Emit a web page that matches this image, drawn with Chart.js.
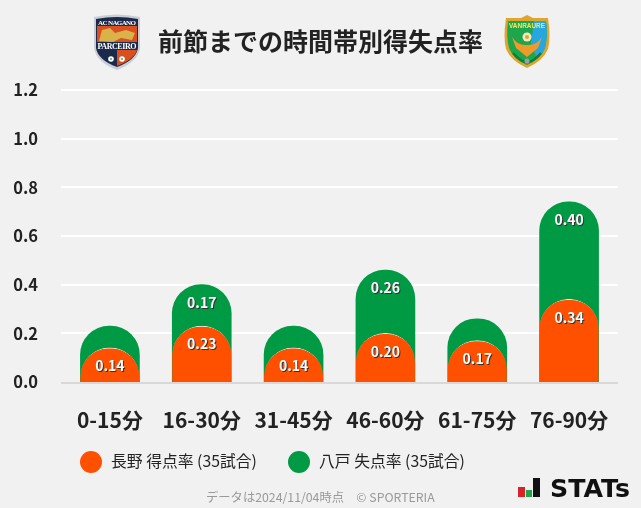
<!DOCTYPE html>
<html lang="ja">
<head>
<meta charset="utf-8">
<script src="https://cdn.jsdelivr.net/npm/chart.js@4"></script>
<style>
  html, body { margin: 0; padding: 0; background: #f1f1f1; }
  #wrap { position: relative; width: 641px; height: 508px; overflow: hidden; font-family: "Noto Sans CJK JP", sans-serif; }
  #chart { position: absolute; left: 0; top: 0; }
  .abs { position: absolute; white-space: nowrap; }
  #title { left: 158px; top: 20px; font-size: 25px; line-height: 40px; font-weight: 700; color: #222; }
  #foot { left: 206px; top: 488px; font-size: 12.3px; line-height: 18px; color: #999; }
  .dot { position: absolute; top: 451px; width: 22px; height: 22px; border-radius: 50%; }
  .leg { top: 450px; font-size: 15.8px; line-height: 22px; color: #222; }
</style>
</head>
<body>
<div id="wrap">
  <canvas id="chart" width="641" height="508"></canvas>
  <div class="abs" id="title">前節までの時間帯別得失点率</div>

  <svg class="abs" style="left:90px;top:12px" width="54" height="60" viewBox="0 0 54 60">
    <path d="M4 5 Q27 0 50 5 L50 36 Q48 50 27 58 Q6 50 4 36 Z" fill="#c9ced6"/>
    <path d="M6 7 Q27 3 48 7 L48 36 Q46 48 27 55 Q8 48 6 36 Z" fill="#1b2a4a"/>
    <path d="M7 14 H47 V30 H7 Z" fill="#d94f1e"/>
    <path d="M27 38 H47 Q45 47 27 54 Z" fill="#d94f1e"/>
    <path d="M9 29 L12 18 L20 16 L25 21 L36 18 L45 21 L42 28 L31 26 L23 30 Z" fill="#d9b24a"/>
    <text x="27" y="12.5" font-size="7" font-weight="700" fill="#fff" text-anchor="middle" font-family="Liberation Serif" textLength="38">AC NAGANO</text>
    <text x="27" y="37" font-size="8" font-weight="700" fill="#fff" text-anchor="middle" font-family="Liberation Serif" textLength="39">PARCEIRO</text>
    <circle cx="21" cy="47" r="2.8" fill="#fff"/><circle cx="32" cy="47" r="2.8" fill="#fff"/>
    <circle cx="21" cy="47" r="0.9" fill="#3a9a4a"/><circle cx="32" cy="47" r="0.9" fill="#3a9a4a"/>
  </svg>

  <svg class="abs" style="left:501px;top:13px" width="52" height="58" viewBox="0 0 52 58">
    <path d="M26 2 L32 5 L47 5 Q50 24 47 36 Q42 48 26 55 Q10 48 5 36 Q2 24 5 5 L20 5 Z" fill="#e0a52c"/>
    <path d="M26 5 L26 52 Q12 46 8 35 Q5 24 7 8 L26 8 Z" fill="#1ea64c"/>
    <path d="M26 8 L45 8 Q47 24 44 35 Q40 46 26 52 Z" fill="#1ea64c"/>
    <path d="M33 8 L45 8 Q47 24 44 35 Q41 42 36 46 L30 30 Z" fill="#27a7df"/>
    <path d="M11 24 Q17 33 26 32 Q35 33 41 24 L37 35 L26 44 L15 35 Z" fill="#ef9a2a"/>
    <circle cx="26" cy="24" r="4.5" fill="#f4e9c0"/>
    <circle cx="26" cy="24" r="2" fill="#e0a52c"/>
    <text x="26" y="15" font-size="6.4" font-weight="700" fill="#f6e86a" text-anchor="middle" font-family="Liberation Sans" textLength="36">VANRAURE</text>
    <path d="M12 40 Q18 47 24 49 M40 40 Q34 47 28 49" stroke="#137a38" stroke-width="2.5" fill="none"/>
    <circle cx="26" cy="48" r="2.5" fill="#9aa0a0"/>
  </svg>

  <div class="dot" id="dot0" style="left:80px"></div>
  <div class="abs leg" id="leg0" style="left:111px"></div>
  <div class="dot" id="dot1" style="left:288px"></div>
  <div class="abs leg" id="leg1" style="left:319px"></div>

  <div class="abs" id="foot">データは2024/11/04時点　© SPORTERIA</div>

  <svg class="abs" style="left:510px;top:470px" width="131" height="38">
    <rect x="8" y="17" width="7" height="10" fill="#d9222a"/>
    <rect x="16" y="20" width="6" height="7" fill="#1fa64a"/>
    <rect x="23" y="8" width="7" height="19" fill="#111"/>
    <text x="40" y="27" font-size="24" font-weight="700" fill="#111" font-family="DejaVu Sans" textLength="80" lengthAdjust="spacingAndGlyphs">STATs</text>
  </svg>
</div>

<script>
const categories = ["0-15分", "16-30分", "31-45分", "46-60分", "61-75分", "76-90分"];
const nagano = [0.14, 0.23, 0.14, 0.20, 0.17, 0.34];
const hachinohe = [0.09, 0.17, 0.09, 0.26, 0.09, 0.40];
const yTicks = [0, 0.2, 0.4, 0.6, 0.8, 1.0, 1.2];
const seriesNames = ["長野 得点率 (35試合)", "八戸 失点率 (35試合)"];
const seriesColors = ["#ff5000", "#009a44"];

const font = "'Noto Sans CJK JP', sans-serif";

// Bars start below the axis and get clipped there, otherwise Chart.js
// limits the corner radius to half of the bar height
const barFloor = -0.12;

// Grid lines run a little past the plot area on both sides
const gridPlugin = {
  id: "grid",
  beforeDatasetsDraw(chart) {
    const ctx = chart.ctx;
    const y = chart.scales.y;
    ctx.save();
    ctx.strokeStyle = "#ffffff";
    ctx.lineWidth = 2;
    yTicks.slice(1).forEach((t) => {
      const py = Math.round(y.getPixelForValue(t));
      ctx.beginPath();
      ctx.moveTo(61, py);
      ctx.lineTo(618, py);
      ctx.stroke();
    });
    ctx.restore();
  },
  afterDatasetsDraw(chart) {
    const ctx = chart.ctx;
    const y = chart.scales.y;
    ctx.save();
    // Baseline
    ctx.strokeStyle = "#d8d8d8";
    ctx.lineWidth = 2;
    const py = Math.round(y.getPixelForValue(0)) + 1;
    ctx.beginPath();
    ctx.moveTo(61, py);
    ctx.lineTo(618, py);
    ctx.stroke();

    // Value labels, small values are left out
    ctx.font = "bold 14px " + font;
    ctx.textAlign = "center";
    ctx.textBaseline = "middle";
    [nagano, hachinohe].forEach((values, d) => {
      chart.getDatasetMeta(d).data.forEach((bar, i) => {
        if (values[i] < 0.1) return;
        ctx.fillStyle = "#333";
        ctx.fillText(values[i].toFixed(2), bar.x + 1, bar.y + 19);
        ctx.fillStyle = "#fff";
        ctx.fillText(values[i].toFixed(2), bar.x, bar.y + 18);
      });
    });
    ctx.restore();
  },
};

new Chart(document.querySelector("#chart").getContext("2d"), {
  type: "bar",
  data: {
    labels: categories,
    datasets: [
      {
        label: seriesNames[0],
        data: nagano.map((v) => [barFloor, v]),
        backgroundColor: seriesColors[0],
        borderColor: "#f4f4f4",
        borderWidth: { top: 1, left: 0, right: 0, bottom: 0 },
        borderSkipped: false,
        borderRadius: { topLeft: 29, topRight: 29 },
        order: 1,
      },
      {
        // Green sits on top of the orange total, it runs behind the orange bar
        label: seriesNames[1],
        data: hachinohe.map((v, i) => [barFloor, v + nagano[i]]),
        backgroundColor: seriesColors[1],
        borderWidth: 0,
        borderSkipped: false,
        borderRadius: { topLeft: 29, topRight: 29 },
        order: 2,
      },
    ],
  },
  options: {
    responsive: false,
    animation: false,
    layout: { padding: { left: 0, right: 26, top: 90, bottom: 0 } },
    datasets: { bar: { grouped: false, barThickness: 59 } },
    plugins: { legend: { display: false }, tooltip: { enabled: false } },
    scales: {
      x: {
        grid: { display: false },
        border: { display: false },
        ticks: { color: "#222", padding: 17, font: { family: font, size: 21, weight: "bold" }, maxRotation: 0 },
        afterFit(scale) { scale.height = 126; },
      },
      y: {
        min: 0,
        max: 1.2,
        afterBuildTicks(scale) { scale.ticks = yTicks.map((value) => ({ value })); },
        grid: { display: false },
        border: { display: false },
        ticks: {
          color: "#222",
          padding: 18,
          font: { family: font, size: 16.5, weight: "bold" },
          callback: (v) => v.toFixed(1),
        },
        afterFit(scale) { scale.width = 64; },
      },
    },
  },
  plugins: [gridPlugin],
});

seriesNames.forEach((name, i) => {
  document.querySelector("#leg" + i).textContent = name;
  document.querySelector("#dot" + i).style.background = seriesColors[i];
});
</script>
</body>
</html>
